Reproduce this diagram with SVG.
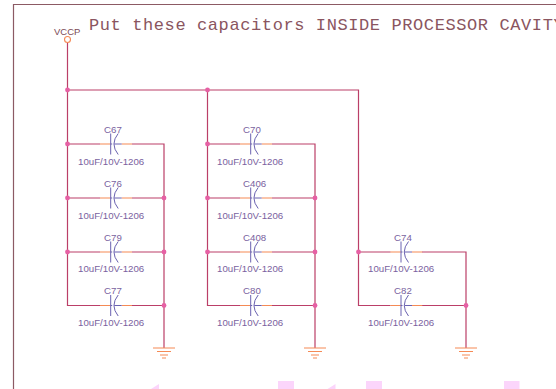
<svg xmlns="http://www.w3.org/2000/svg" width="556" height="389" viewBox="0 0 556 389">
<style>
.w{fill:none;stroke:#bb3f68;stroke-width:1.2}
.p{fill:none;stroke:#f58a55;stroke-width:1.200}
.c{fill:none;stroke:#6a62b0;stroke-width:1}
.d{fill:#e660a4;stroke:none}
.t{font-family:"Liberation Sans",Arial,sans-serif;font-size:9.700px;fill:#7a62a0}
.g{fill:none;stroke:#f58a55;stroke-width:1.200}
.m{fill:#fbd5fb;stroke:none}
</style>
<defs>
<g id="cap">
<path class="p" d="M-10.700 0H0M11 0H21.300"/>
<path class="c" d="M0 -10.500V10.500M0 0H1.500M7.500 -10.500Q-1 0 7.500 10.500M3.500 0H11"/>
</g>
<g id="gnd">
<path class="g" d="M-11 0H11M-7 3.500H7M-4 7H4M-2 10H2"/>
</g>
</defs>
<rect width="556" height="389" fill="#fff"/>
<path d="M13.500 389V4.500H556" fill="none" stroke="#8c5a64" stroke-width="1.200"/>
<g id="watermark">
<rect class="m" x="278" y="381" width="16" height="8"/>
<rect class="m" x="366" y="381" width="16" height="8"/>
<rect class="m" x="504" y="381" width="15.500" height="8"/>
<path class="m" d="M151 389L159 384V389Z"/>
<path class="m" d="M327.500 389L335.500 384V389Z"/>
</g>
<g id="connectors">
<path class="w" d="M67.500 42.500V305.500H100M67.500 90H358.500V305.500H390.500M67.500 144H100M67.500 198H100M67.500 252H100"/>
<path class="w" d="M207.500 90V305.500H240M207.500 144H240M207.500 198H240M207.500 252H240"/>
<path class="w" d="M358.500 252H390.500"/>
<path class="w" d="M132 144H164V348M132 198H164M132 252H164M132 305.500H164"/>
<path class="w" d="M272 144H315V348M272 198H315M272 252H315M272 305.500H315"/>
<path class="w" d="M422 252H466V348M422 305.500H466"/>
<circle class="d" cx="67.500" cy="90" r="2.400"/>
<circle class="d" cx="207.500" cy="90" r="2.400"/>
<circle class="d" cx="67.500" cy="144" r="2.400"/>
<circle class="d" cx="67.500" cy="198" r="2.400"/>
<circle class="d" cx="67.500" cy="252" r="2.400"/>
<circle class="d" cx="207.500" cy="144" r="2.400"/>
<circle class="d" cx="207.500" cy="198" r="2.400"/>
<circle class="d" cx="207.500" cy="252" r="2.400"/>
<circle class="d" cx="358.500" cy="252" r="2.400"/>
<circle class="d" cx="164" cy="198" r="2.400"/>
<circle class="d" cx="164" cy="252" r="2.400"/>
<circle class="d" cx="164" cy="305.500" r="2.400"/>
<circle class="d" cx="315" cy="198" r="2.400"/>
<circle class="d" cx="315" cy="252" r="2.400"/>
<circle class="d" cx="315" cy="305.500" r="2.400"/>
<circle class="d" cx="466" cy="305.500" r="2.400"/>
</g>
<g id="VCCP">
<circle cx="67.500" cy="39.500" r="3" fill="#fff" stroke="#f58a55" stroke-width="1.100"/>
<text x="54" y="35" font-family="Liberation Sans,sans-serif" font-size="9.500" fill="#7c4a55">VCCP</text>
</g>
<text x="89" y="29.500" font-family="Liberation Mono,monospace" font-size="17" letter-spacing="0.600" fill="#8a5560">Put these capacitors INSIDE PROCESSOR CAVITY</text>
<g id="C67"><use href="#cap" x="110.700" y="144"/><text class="t" x="104" y="133">C67</text><text class="t" x="78" y="165">10uF/10V-1206</text></g>
<g id="C76"><use href="#cap" x="110.700" y="198"/><text class="t" x="104" y="187">C76</text><text class="t" x="78" y="219">10uF/10V-1206</text></g>
<g id="C79"><use href="#cap" x="110.700" y="252"/><text class="t" x="104" y="241">C79</text><text class="t" x="78" y="272">10uF/10V-1206</text></g>
<g id="C77"><use href="#cap" x="110.700" y="305.500"/><text class="t" x="104" y="294">C77</text><text class="t" x="78" y="326">10uF/10V-1206</text></g>
<g id="C70"><use href="#cap" x="250.700" y="144"/><text class="t" x="243" y="133">C70</text><text class="t" x="217" y="165">10uF/10V-1206</text></g>
<g id="C406"><use href="#cap" x="250.700" y="198"/><text class="t" x="243" y="187">C406</text><text class="t" x="217" y="219">10uF/10V-1206</text></g>
<g id="C408"><use href="#cap" x="250.700" y="252"/><text class="t" x="243" y="241">C408</text><text class="t" x="217" y="272">10uF/10V-1206</text></g>
<g id="C80"><use href="#cap" x="250.700" y="305.500"/><text class="t" x="243" y="294">C80</text><text class="t" x="217" y="326">10uF/10V-1206</text></g>
<g id="C74"><use href="#cap" x="401" y="252"/><text class="t" x="394" y="241">C74</text><text class="t" x="368" y="272">10uF/10V-1206</text></g>
<g id="C82"><use href="#cap" x="401" y="305.500"/><text class="t" x="394" y="294">C82</text><text class="t" x="368" y="326">10uF/10V-1206</text></g>
<g id="GND1"><use href="#gnd" x="164" y="348"/></g>
<g id="GND2"><use href="#gnd" x="315" y="348"/></g>
<g id="GND3"><use href="#gnd" x="466" y="348"/></g>
</svg>
